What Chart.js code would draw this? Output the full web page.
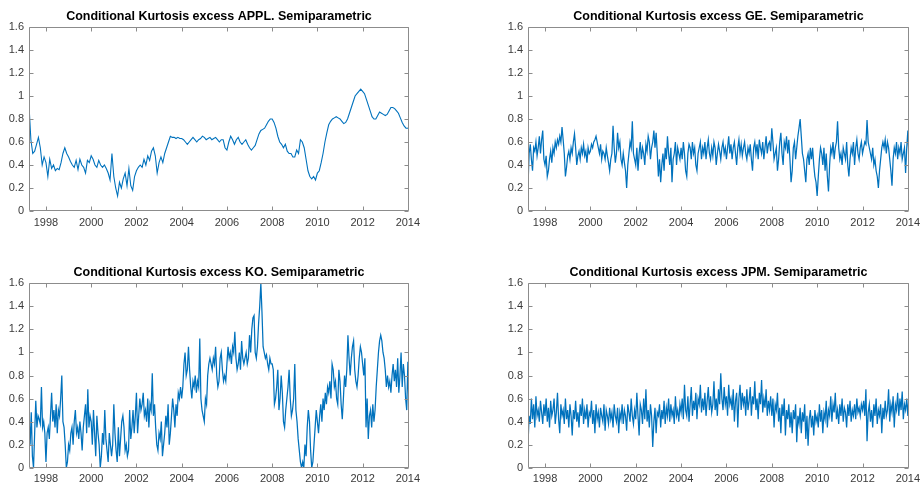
<!DOCTYPE html>
<html>
<head>
<meta charset="utf-8">
<script src="https://cdn.jsdelivr.net/npm/chart.js@4.4.1/dist/chart.umd.min.js"></script>
<style>
body { margin: 0; background: #fff; }
#wrap { position: relative; width: 920px; height: 487px; }
canvas { position: absolute; }
</style>
</head>
<body>
<div id="wrap">
  <canvas id="c1" width="460" height="243" style="left:0;top:0"></canvas>
  <canvas id="c2" width="460" height="243" style="left:460px;top:0"></canvas>
  <canvas id="c3" width="460" height="244" style="left:0;top:243px"></canvas>
  <canvas id="c4" width="460" height="244" style="left:460px;top:243px"></canvas>
</div>
<script>
// sample dates: first value is 1997.25, then a fixed step in years
var startYear = 1997.25;
var endYear = 2014.05;
var applStep = 1 / 12;   // monthly
var noisyStep = 0.05;    // 20 per year

var xTicks = [1998, 2000, 2002, 2004, 2006, 2008, 2010, 2012, 2014];
var yTicks = [0, 0.2, 0.4, 0.6, 0.8, 1, 1.2, 1.4, 1.6];

var titles = [
    "Conditional Kurtosis excess APPL. Semiparametric",
    "Conditional Kurtosis excess GE. Semiparametric",
    "Conditional Kurtosis excess KO. Semiparametric",
    "Conditional Kurtosis excess JPM. Semiparametric"
];

var applValues = [
    .92, .62, .5, .52, .58, .64, .55, .4, .47,
    .42, .3, .45, .37, .4, .35, .37, .36, .42, .5, .55, .5,
    .47, .43, .4, .38, .44, .36, .45, .4, .38, .33, .44, .42,
    .48, .45, .4, .38, .44, .4, .38, .4, .37, .33, .27, .5,
    .3, .2, .13, .25, .2, .28, .33, .22, .37, .22, .18, .3,
    .35, .38, .4, .38, .45, .4, .48, .44, .52, .55, .48, .33,
    .42, .47, .42, .5, .55, .6, .65, .64, .64, .63, .64, .63,
    .63, .62, .6, .58, .6, .62, .64, .62, .6, .62, .63, .65,
    .64, .62, .63, .64, .62, .63, .64, .62, .6, .62, .62, .55,
    .53, .6, .65, .62, .58, .62, .64, .6, .58, .6, .62, .58,
    .55, .53, .55, .57, .62, .67, .7, .71, .72, .75, .78, .8,
    .8, .77, .72, .65, .6, .58, .55, .58, .52, .5, .5, .47,
    .47, .53, .5, .62, .6, .55, .45, .35, .3, .28, .3, .27,
    .33, .35, .42, .5, .6, .68, .75, .78, .8, .81, .82, .81,
    .8, .78, .76, .77, .8, .85, .9, .95, 1.0, 1.02, 1.04, 1.06,
    1.04, 1.02, .97, .92, .87, .82, .8, .8, .83, .86, .85, .84,
    .83, .84, .87, .9, .9, .89, .87, .85, .81, .77, .74, .72,
    .72, .73
];

var geValues = [
    .22, .5, .58, .45, .35, .55, .52, .6, .48, .55, .65, .5, .62, .7, .45,
    .4, .48, .3, .35, .45, .52, .42, .55, .5, .6, .55, .62, .58, .65, .6, .73, .62, .5, .3, .38,
    .48, .52, .45, .55, .5, .6, .67, .55, .4, .48, .52, .45, .55, .5, .58, .48, .52, .42, .55, .5,
    .52, .58, .55, .6, .62, .65, .6, .55, .5, .58, .45, .52, .5, .45, .55, .48, .42, .35, .45, .5,
    .74, .55, .42, .5, .68, .55, .6, .45, .4, .5, .42, .35, .2, .4, .5, .6, .55, .78, .5, .45,
    .4, .55, .35, .5, .6, .45, .55, .5, .4, .58, .52, .65, .6, .45, .55, .6, .7, .55, .68, .5,
    .3, .45, .25, .4, .5, .35, .55, .45, .65, .5, .4, .55, .25, .45, .5, .6, .4, .55, .5, .45,
    .55, .45, .6, .5, .35, .3, .5, .58, .55, .45, .6, .5, .55, .4, .35, .5, .55, .6, .45, .55,
    .5, .6, .45, .55, .62, .5, .45, .55, .48, .6, .55, .4, .5, .58, .52, .45, .55, .6, .5, .55,
    .45, .55, .65, .5, .58, .45, .55, .6, .5, .4, .55, .62, .5, .58, .48, .55, .6, .5, .45, .55,
    .5, .58, .45, .35, .55, .6, .5, .58, .45, .62, .55, .5, .6, .45, .55, .65, .5, .58, .6, .52,
    .72, .6, .45, .5, .55, .35, .45, .6, .68, .5, .4, .6, .55, .65, .5, .62, .45, .25, .35, .55,
    .6, .45, .55, .65, .72, .8, .65, .5, .45, .35, .25, .45, .5, .4, .55, .45, .55, .4, .3, .25,
    .13, .3, .45, .55, .5, .4, .55, .35, .5, .3, .17, .4, .55, .5, .6, .45, .55, .6, .78, .55,
    .45, .5, .4, .55, .5, .45, .6, .4, .3, .45, .55, .5, .6, .4, .55, .62, .5, .45, .55, .6,
    .5, .55, .6, .58, .79, .6, .55, .5, .45, .55, .4, .45, .35, .3, .2, .35, .45, .55, .6, .55,
    .62, .5, .6, .55, .45, .35, .22, .45, .55, .5, .6, .45, .55, .5, .6, .45, .5, .55, .33, .55,
    .7, .45
];

var koValues = [
    .45, .2, .48, .1, 0, .3, .58, .35, .45, .42, .38, .7, .35, .4, .3,
    .05, .3, .35, .25, .45, .65, .4, .5, .35, .55, .3, .5, .45, .6, .8, .4, .35, .2, 0, .05,
    .2, .15, .3, .35, .2, .4, .5, .3, .35, .25, .4, .3, .15, .35, .45, .55, .3, .68, .35, .45,
    .4, .2, .5, .3, .1, .45, .3, .2, 0, .1, .3, .2, .5, .25, .15, .05, .3, .2, .1, .2,
    .55, .3, .15, .05, .35, .1, .25, .4, .45, .35, .15, .2, .1, .15, .5, .25, .35, .5, .3, .45,
    .65, .3, .45, .6, .5, .55, .65, .45, .5, .4, .6, .35, .55, .5, .82, .45, .55, .35, .2, .15,
    .3, .25, .4, .1, .2, .3, .45, .35, .55, .2, .3, .45, .6, .5, .35, .55, .45, .65, .6, .7,
    .6, .7, .9, 1.0, .8, .85, 1.05, .85, .7, .6, .75, .7, .8, .65, .75, .7, 1.12, .6, .5, .45,
    .4, .6, .55, .8, .9, .95, .9, .85, .95, .9, 1.05, .8, .7, .75, .95, 1.0, .85, .75, .8, .75,
    .9, 1.05, .95, 1.0, .9, 1.05, 1.0, 1.18, .95, .85, .9, 1.0, .85, 1.1, .95, .9, .95, 1.0, .9, .95,
    1.15, 1.0, 1.2, 1.3, 1.32, 1.0, .95, 1.05, 1.25, 1.4, 1.6, 1.35, 1.05, 1.0, .95, .98, .9, .85, .95, .9,
    .9, .85, .55, .6, .7, .85, .5, .6, .8, .65, .4, .35, .5, .6, .7, .85, .6, .45, .5, .6,
    .9, .5, .4, .25, .15, .05, 0, .05, 0, .2, .1, .35, .5, .4, .15, 0, .05, .2, .35, .5,
    .4, .3, .45, .55, .4, .6, .5, .65, .55, .7, .65, .75, .6, .9, .85, .7, .75, .6, .55, .85,
    .75, .55, .42, .6, .8, .7, .85, 1.15, .95, .8, .95, 1.05, 1.1, .85, .75, .7, .8, .95, 1.05, 1.0,
    .9, .8, .95, .35, .6, .25, .45, .5, .35, .55, .4, .5, .7, .85, 1.0, 1.1, 1.15, 1.1, 1.0, .95,
    .85, .7, .8, .7, .75, .65, .8, .9, .75, .85, .7, .95, .65, .8, 1.0, .7, .9, .8, .6, .5,
    .92, .5
];

var jpmValues = [
    .2, .45, .38, .6, .42, .55, .35, .62, .45, .5, .4, .58, .48, .38, .55,
    .45, .6, .4, .52, .35, .58, .45, .5, .6, .38, .48, .65, .42, .3, .55, .45, .5, .38, .6, .42,
    .5, .35, .55, .45, .28, .5, .42, .58, .4, .48, .35, .55, .45, .6, .38, .5, .42, .55, .35, .48,
    .45, .58, .38, .5, .3, .55, .42, .48, .35, .52, .45, .4, .55, .32, .5, .45, .38, .52, .42, .48,
    .35, .55, .45, .4, .52, .3, .48, .42, .55, .38, .5, .45, .32, .55, .48, .4, .6, .45, .38, .5,
    .42, .65, .45, .28, .55, .5, .38, .6, .42, .68, .4, .5, .35, .55, .45, .18, .4, .52, .3, .48,
    .45, .55, .35, .5, .42, .58, .38, .52, .45, .6, .4, .55, .45, .5, .38, .62, .45, .5, .4, .55,
    .48, .6, .42, .72, .5, .45, .62, .4, .55, .7, .45, .58, .5, .65, .42, .6, .55, .72, .48, .6,
    .5, .65, .45, .58, .7, .5, .62, .48, .55, .75, .5, .6, .45, .68, .55, .82, .6, .5, .7, .55,
    .62, .45, .72, .55, .6, .5, .68, .4, .58, .65, .35, .6, .72, .5, .65, .55, .62, .45, .68, .5,
    .58, .7, .45, .62, .55, .75, .5, .6, .42, .65, .55, .76, .48, .6, .52, .68, .45, .58, .5, .62,
    .45, .6, .35, .55, .5, .65, .4, .52, .3, .55, .45, .6, .28, .5, .42, .55, .35, .48, .3, .5,
    .42, .55, .22, .45, .38, .52, .3, .48, .4, .55, .25, .45, .19, .42, .5, .35, .45, .28, .5, .4,
    .45, .35, .55, .4, .5, .3, .48, .42, .58, .35, .5, .45, .62, .4, .55, .48, .65, .42, .5, .38,
    .55, .45, .6, .4, .52, .48, .35, .55, .45, .58, .4, .5, .45, .55, .42, .6, .48, .52, .45, .55,
    .5, .58, .45, .68, .23, .48, .55, .4, .5, .35, .55, .45, .6, .38, .5, .45, .55, .3, .52, .42,
    .58, .45, .5, .68, .4, .55, .48, .62, .35, .55, .5, .65, .45, .6, .5, .66, .42, .55, .5, .6,
    .45, .62
];

var lineColor = "rgb(0,114,189)";
var boxColor = "#8c8c8c";
var labelColor = "#3a3a3a";
var fontFamily = "'Liberation Sans', Arial, Helvetica, sans-serif";

// matlab look: full box, ticks pointing inward on all four sides
var boxTicks = {
    id: "boxTicks",
    afterDraw: function (chart) {
        var ctx = chart.ctx, a = chart.chartArea;
        var sx = chart.scales.x, sy = chart.scales.y;
        var L = Math.round(a.left) + 0.5, R = Math.round(a.right) - 0.5;
        var T = Math.round(a.top) + 0.5, B = Math.round(a.bottom) - 0.5;
        var len = 4;
        ctx.save();
        ctx.strokeStyle = boxColor;
        ctx.lineWidth = 1;
        ctx.beginPath();
        ctx.rect(L, T, R - L, B - T);
        sx.ticks.forEach(function (t) {
            var px = Math.round(sx.getPixelForValue(t.value)) + 0.5;
            ctx.moveTo(px, B); ctx.lineTo(px, B - len);
            ctx.moveTo(px, T); ctx.lineTo(px, T + len);
        });
        sy.ticks.forEach(function (t) {
            var py = Math.round(sy.getPixelForValue(t.value)) + 0.5;
            ctx.moveTo(L, py); ctx.lineTo(L + len, py);
            ctx.moveTo(R, py); ctx.lineTo(R - len, py);
        });
        ctx.stroke();
        ctx.restore();
    }
};

function toPoints(values, step) {
    return values.map(function (v, i) {
        return { x: startYear + i * step, y: v };
    });
}

function makePanel(id, title, values, step, lay) {
    return new Chart(document.getElementById(id), {
        type: "line",
        data: {
            datasets: [{
                data: toPoints(values, step),
                borderColor: lineColor,
                borderWidth: lay.lineWidth,
                pointRadius: 0,
                tension: 0,
                fill: false
            }]
        },
        options: {
            responsive: false,
            animation: false,
            devicePixelRatio: 1,
            layout: { padding: { left: 0, right: lay.right, top: 0, bottom: 0 } },
            plugins: {
                legend: { display: false },
                tooltip: { enabled: false },
                title: {
                    display: true,
                    text: title,
                    fullSize: false,
                    color: "#000",
                    font: { family: fontFamily, size: 12.5, weight: "bold", lineHeight: 1.2 },
                    padding: { top: lay.titleTop, bottom: lay.titleBottom }
                }
            },
            scales: {
                x: {
                    type: "linear",
                    min: startYear,
                    max: endYear,
                    grid: { display: false, drawTicks: false },
                    border: { display: false },
                    afterBuildTicks: function (s) {
                        s.ticks = xTicks.map(function (v) { return { value: v }; });
                    },
                    afterFit: function (s) {
                        s.height = lay.xHeight;
                        // keep the plot box where it is, let the end labels hang over
                        s.paddingLeft = 0;
                        s.paddingRight = 0;
                    },
                    ticks: {
                        autoSkip: false,
                        maxRotation: 0,
                        padding: 5,
                        color: labelColor,
                        font: { family: fontFamily, size: 11 },
                        callback: function (v) { return String(v); }
                    }
                },
                y: {
                    min: 0,
                    max: 1.6,
                    grid: { display: false, drawTicks: false },
                    border: { display: false },
                    afterBuildTicks: function (s) {
                        s.ticks = yTicks.map(function (v) { return { value: v }; });
                    },
                    afterFit: function (s) { s.width = lay.yWidth; },
                    ticks: {
                        padding: 5,
                        color: labelColor,
                        font: { family: fontFamily, size: 11 },
                        callback: function (v) { return String(Math.round(v * 10) / 10); }
                    }
                }
            }
        },
        plugins: [boxTicks]
    });
}

var topLay = { yWidth: 29, right: 51, xHeight: 32, titleTop: 9.5, titleBottom: 2.5, lineWidth: 1.1 };
var topLayR = { yWidth: 68, right: 11, xHeight: 32, titleTop: 9.5, titleBottom: 2.5, lineWidth: 1.25 };
var botLay = { yWidth: 29, right: 51, xHeight: 19.3, titleTop: 22.5, titleBottom: 2.8, lineWidth: 1.25 };
var botLayR = { yWidth: 68, right: 11, xHeight: 19.3, titleTop: 22.5, titleBottom: 2.8, lineWidth: 1.25 };

makePanel("c1", titles[0], applValues, applStep, topLay);
makePanel("c2", titles[1], geValues, noisyStep, topLayR);
makePanel("c3", titles[2], koValues, noisyStep, botLay);
makePanel("c4", titles[3], jpmValues, noisyStep, botLayR);
</script>
</body>
</html>
